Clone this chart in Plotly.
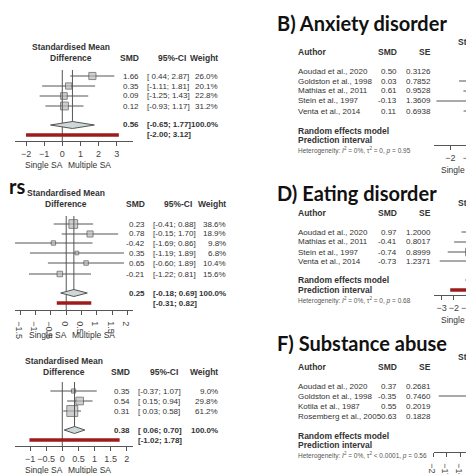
import plotly.graph_objects as go

W = H = 474
# ---------------- data ----------------
a_smd = [1.66, 0.35, 0.09, 0.12]
a_lo = [0.44, -1.11, -1.25, -0.93]
a_hi = [2.87, 1.81, 1.43, 1.17]
a_w = [26.0, 20.1, 22.8, 31.2]
a_sum = [0.56, -0.65, 1.77]
a_pi = [-2.00, 3.12]

c_smd = [0.23, 0.78, -0.42, 0.35, 0.65, -0.21]
c_lo = [-0.41, -0.15, -1.69, -1.19, -0.60, -1.22]
c_hi = [0.88, 1.70, 0.86, 1.89, 1.89, 0.81]
c_w = [38.6, 18.9, 9.8, 6.8, 10.4, 15.6]
c_sum = [0.25, -0.18, 0.69]
c_pi = [-0.31, 0.82]

e_smd = [0.35, 0.54, 0.31]
e_lo = [-0.37, 0.15, 0.03]
e_hi = [1.07, 0.94, 0.58]
e_w = [9.0, 29.8, 61.2]
e_sum = [0.38, 0.06, 0.70]
e_pi = [-1.02, 1.78]

b_auth = ["Aoudad et al., 2020", "Goldston et al., 1998", "Mathias et al., 2011", "Stein et al., 1997", "Venta et al., 2014"]
b_smd = [0.50, 0.03, 0.61, -0.13, 0.11]
b_se = [0.3126, 0.7852, 0.9528, 1.3609, 0.6938]
b_sum = [0.33, -0.22, 0.88]
b_pi = [-0.40, 1.06]
b_het = "Heterogeneity: <i>I</i><sup>2</sup> = 0%, τ<sup>2</sup> = 0, <i>p</i> = 0.95"

d_auth = ["Aoudad et al., 2020", "Mathias et al., 2011", "Stein et al., 1997", "Venta et al., 2014"]
d_smd = [0.97, -0.41, -0.74, -0.73]
d_se = [1.2000, 0.8017, 0.8999, 1.2371]
d_sum = [-0.33, -1.05, 0.39]
d_pi = [-2.30, 1.64]
d_het = "Heterogeneity: <i>I</i><sup>2</sup> = 0%, τ<sup>2</sup> = 0, <i>p</i> = 0.68"

f_auth = ["Aoudad et al., 2020", "Goldston et al., 1998", "Kotila et al., 1987", "Rosemberg et al., 2005"]
f_smd = [0.37, -0.35, 0.55, 0.63]
f_se = [0.2681, 0.7460, 0.2019, 0.1828]
f_sum = [0.55, 0.32, 0.78]
f_pi = [0.10, 1.00]
f_het = "Heterogeneity: <i>I</i><sup>2</sup> = 0%, τ<sup>2</sup> < 0.0001, <i>p</i> = 0.56"

FONT = "Liberation Sans"
GRAY = "#555"
fig = go.Figure()
ann = []
lay = {}


def txt(x, y, s, anchor="left", size=8.5, bold=False, color="#333", family=FONT):
    if bold:
        s = "<b>" + s + "</b>"
    ann.append(dict(x=x / W, y=1 - y / H, xref="paper", yref="paper", text=s, showarrow=False,
                    xanchor=anchor, yanchor="middle", font=dict(size=size, color=color, family=family)))


def make_axes(k, dom_px, zero_px, ppu, band, axis_y, dtick):
    xs = "" if k == 1 else str(k)
    lo = (dom_px[0] - zero_px) / ppu
    hi = (dom_px[1] - zero_px) / ppu
    lay["xaxis" + xs] = dict(domain=[dom_px[0] / W, min(1, dom_px[1] / W)], range=[lo, hi], anchor="free",
                             position=1 - axis_y / H, showline=True, linecolor=GRAY, ticks="outside", ticklen=4,
                             tickcolor=GRAY, showgrid=False, zeroline=False,
                             tickfont=dict(size=9, color="#444", family=FONT), dtick=dtick, tick0=0)
    lay["yaxis" + xs] = dict(domain=[1 - band[1] / H, 1 - band[0] / H], range=[band[1], band[0]],
                             visible=False, anchor="x" + xs)
    return "x" + xs, "y" + xs


def forest(ax, ay, smd, lo, hi, w, rows, summ, pi, sum_y, pi_y, top, axis_y, show_sum_line=True):
    xs, ys = [], []
    for l, h, r in zip(lo, hi, rows):
        xs += [l, h, None]; ys += [r, r, None]
    fig.add_trace(go.Scatter(x=xs, y=ys, mode="lines", line=dict(color=GRAY, width=1), xaxis=ax, yaxis=ay))
    fig.add_trace(go.Scatter(x=smd, y=rows, mode="markers", xaxis=ax, yaxis=ay,
                             marker=dict(symbol="square", color="#bbb", size=[max(3, (v ** 0.5) * 1.4) for v in w],
                                         line=dict(color=GRAY, width=1))))
    fig.add_trace(go.Scatter(x=[0, 0], y=[top, axis_y], mode="lines", line=dict(color=GRAY, width=1), xaxis=ax, yaxis=ay))
    if show_sum_line:
        fig.add_trace(go.Scatter(x=[summ[0], summ[0]], y=[top, sum_y], mode="lines", line=dict(color=GRAY, width=1),
                                 xaxis=ax, yaxis=ay))
    fig.add_trace(go.Scatter(x=[summ[1], summ[0], summ[2], summ[0], summ[1]],
                             y=[sum_y, sum_y - 3.5, sum_y, sum_y + 3.5, sum_y], mode="lines", fill="toself",
                             fillcolor="#cfd8d8", line=dict(color=GRAY, width=1), xaxis=ax, yaxis=ay))
    fig.add_trace(go.Scatter(x=pi, y=[pi_y, pi_y], mode="lines", line=dict(color="#9e1b1b", width=3.5),
                             xaxis=ax, yaxis=ay))


def ci_str(l, h):
    return "[%s; %.2f]" % (("%.2f" % l) if l < 0 else (" %.2f" % l), h)


def left_table(smd, lo, hi, w, rows, summ, pi, sum_y, pi_y, hdr_y, smd_x, ci_x, w_x, title_x):
    txt(title_x, hdr_y - 11, "Standardised Mean", "center", 8.5, True)
    txt(title_x, hdr_y, "Difference", "center", 8.5, True)
    txt(smd_x, hdr_y, "SMD", "right", 8.5, True)
    txt(ci_x + 44, hdr_y, "95%-CI", "right", 8.5, True)
    txt(w_x, hdr_y, "Weight", "right", 8.5, True)
    for s, l, h, ww, r in zip(smd, lo, hi, w, rows):
        txt(smd_x, r, "%.2f" % s, "right", 8)
        txt(ci_x, r, ci_str(l, h), "left", 8)
        txt(w_x, r, "%.1f%%" % ww, "right", 8)
    txt(smd_x, sum_y, "%.2f" % summ[0], "right", 8, True)
    txt(ci_x, sum_y, ci_str(summ[1], summ[2]), "left", 8, True)
    txt(w_x, sum_y, "100.0%", "right", 8, True)
    txt(ci_x, pi_y, ci_str(pi[0], pi[1]), "left", 8, True)


# ---- Panel A
ax, ay = make_axes(1, (0, 120), 48, 18.4, (30, 165), 133, 1)
a_rows = [68, 78, 88, 98]
forest(ax, ay, a_smd, a_lo, a_hi, a_w, a_rows, a_sum, a_pi, 117, 127, 62, 133)
left_table(a_smd, a_lo, a_hi, a_w, a_rows, a_sum, a_pi, 117, 127, 50, 128, 132, 208, 57)
txt(8, 157, "Single SA", "left"); txt(52, 157, "Multiple SA", "left")

# ---- Panel C
ax, ay = make_axes(2, (0, 120), 52, 31, (172, 335), 302, 0.5)
c_rows = [216, 226, 235, 245, 255, 266]
forest(ax, ay, c_smd, c_lo, c_hi, c_w, c_rows, c_sum, c_pi, 285, 295, 208, 302)
left_table(c_smd, c_lo, c_hi, c_w, c_rows, c_sum, c_pi, 285, 295, 196, 134, 138, 216, 52)
txt(12, 327, "Single SA", "left"); txt(56, 327, "Multiple SA", "left")
txt(12, 178, "rs", "right", 20, True, "#111", "Lato")

# ---- Panel E
ax, ay = make_axes(3, (0, 120), 48, 32.7, (340, 474), 438, 0.5)
e_rows = [383, 393, 403]
forest(ax, ay, e_smd, e_lo, e_hi, e_w, e_rows, e_sum, e_pi, 422, 432, 374, 438)
left_table(e_smd, e_lo, e_hi, e_w, e_rows, e_sum, e_pi, 422, 432, 364, 119, 123, 208, 50)
txt(8, 462, "Single SA", "left"); txt(52, 462, "Multiple SA", "left")


def right_panel(k, title, title_y, auth, smd, se, summ, pi, het, hdr_y, rows, sum_y, pi_y, axis_y, zero_px, ppu,
                dtick, band):
    ax, ay = make_axes(k, (425, 480), zero_px, ppu, band, axis_y, dtick)
    txt(264, title_y, title, "left", 20, True, "#111", "Lato")
    txt(285, hdr_y, "Author", "left", 8.5, True)
    txt(390, hdr_y, "SMD", "right", 8.5, True)
    txt(424, hdr_y, "SE", "right", 8.5, True)
    txt(448, hdr_y - 10, "Standardised Mean", "left", 8.5, True)
    txt(472, hdr_y, "Difference", "left", 8.5, True)
    for a, s, e, r in zip(auth, smd, se, rows):
        txt(285, r, a, "left", 8)
        txt(390, r, "%.2f" % s, "right", 8)
        txt(424, r, "%.4f" % e, "right", 8)
    txt(285, sum_y, "Random effects model", "left", 8.5, True)
    txt(285, pi_y, "Prediction interval", "left", 8.5, True)
    txt(285, pi_y + 10, het, "left", 6.5, False, "#555")
    txt(430, axis_y + 25, "Single SA   Multiple SA", "left", 8.5)
    lo = [s - 1.96 * e for s, e in zip(smd, se)]
    hi = [s + 1.96 * e for s, e in zip(smd, se)]
    w = [1 / e ** 2 for e in se]
    tot = sum(w)
    w = [100 * v / tot for v in w]
    forest(ax, ay, smd, lo, hi, w, rows, summ, pi, sum_y, pi_y, rows[0] - 6, axis_y, show_sum_line=False)


right_panel(4, "B) Anxiety disorder", 15, b_auth, b_smd, b_se, b_sum, b_pi, b_het, 44,
            [63, 73, 83, 93, 103], 123, 132, 137, 484, 20, 1, (30, 170))
right_panel(5, "D) Eating disorder", 185, d_auth, d_smd, d_se, d_sum, d_pi, d_het, 205,
            [224, 234, 244, 253], 272, 282, 287, 476, 14, 1, (195, 320))
right_panel(6, "F) Substance abuse", 335, f_auth, f_smd, f_se, f_sum, f_pi, f_het, 359,
            [378, 388, 398, 408], 428, 437, 444, 485, 30, 0.5, (345, 474))

fig.update_layout(
    width=W, height=H, margin=dict(l=0, r=0, t=0, b=0), showlegend=False,
    paper_bgcolor="white", plot_bgcolor="white", annotations=ann, **lay,
)
fig.write_html("out.html", config={"displayModeBar": False})
